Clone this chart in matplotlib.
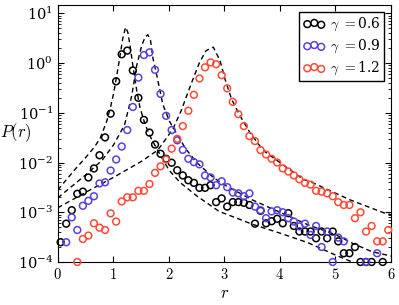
import numpy as np
import matplotlib
matplotlib.use("Agg")
import matplotlib.pyplot as plt
from matplotlib.ticker import LogLocator, NullFormatter, FixedLocator

plt.rcParams['mathtext.fontset'] = 'cm'
plt.rcParams['font.family'] = ['DejaVu Serif']

# ---- data: simulation histograms ----
r_black = [0.05, 0.15, 0.25, 0.35, 0.45, 0.55, 0.65, 0.75, 0.85, 0.95,
           1.05, 1.15, 1.25, 1.35, 1.45, 1.55, 1.65, 1.75, 1.85, 1.95,
           2.05, 2.15, 2.25, 2.35, 2.45, 2.55, 2.65, 2.75, 2.85, 2.95,
           3.05, 3.15, 3.25, 3.35, 3.45, 3.55, 3.65, 3.75, 3.85, 3.95,
           4.05, 4.15, 4.25, 4.35, 4.45, 4.55, 4.65, 4.75, 4.85, 4.95,
           5.05, 5.15, 5.25, 5.35, 5.45, 5.55, 5.65, 5.85]
p_black = [2.5e-4, 5.9e-4, 1.1e-3, 2.35e-3, 2.6e-3, 5.0e-3, 7.6e-3, 1.4e-2, 3.2e-2, 9.6e-2,
           0.43, 1.5, 1.78, 0.71, 0.20, 0.072, 0.040, 0.023, 0.015, 0.0119,
           0.0099, 0.0070, 0.0055, 0.0044, 0.0039, 0.0031, 0.0031, 0.0035, 0.0016, 0.0019,
           0.0013, 0.0016, 0.0016, 0.00155, 0.0014, 0.00059, 0.00107, 0.00060, 0.00066, 0.00074,
           0.00060, 0.00096, 0.00053, 0.00041, 0.00041, 0.00041, 0.00030, 0.00041, 0.00030, 0.00041,
           0.00026, 0.00015, 0.00015, 0.00020, 1e-4, 1e-4, 1e-4, 1e-4]

r_blue = [0.15, 0.25, 0.35, 0.45, 0.55, 0.65, 0.75, 0.85, 0.95,
          1.05, 1.15, 1.25, 1.35, 1.45, 1.55, 1.65, 1.75, 1.85, 1.95,
          2.05, 2.15, 2.25, 2.35, 2.45, 2.55, 2.65, 2.75, 2.85, 2.95,
          3.05, 3.15, 3.25, 3.35, 3.45, 3.55, 3.65, 3.75, 3.85, 3.95,
          4.05, 4.15, 4.25, 4.35, 4.45, 4.55, 4.65, 4.75, 4.85, 4.95,
          5.05, 5.15, 5.55, 5.75]
p_blue = [2.5e-4, 7.9e-4, 4.4e-4, 1.35e-3, 1.7e-3, 2.1e-3, 3.8e-3, 4.0e-3, 6.9e-3,
          0.0115, 0.021, 0.045, 0.131, 0.51, 1.45, 1.64, 0.73, 0.24, 0.087,
          0.045, 0.028, 0.018, 0.0119, 0.0102, 0.0092, 0.0055, 0.0050, 0.0035, 0.0042,
          0.0032, 0.0025, 0.0024, 0.0021, 0.0024, 0.0013, 0.0011, 0.00076, 0.00104, 0.0011,
          0.0010, 0.00076, 0.00065, 0.00052, 0.00059, 0.00035, 0.00053, 0.00020, 0.00041, 1e-4,
          0.00031, 0.00026, 1e-4, 0.00015]

r_red = [0.35, 0.45, 0.55, 0.65, 0.75, 0.85, 0.95,
         1.05, 1.15, 1.25, 1.35, 1.45, 1.55, 1.65, 1.75, 1.85, 1.95,
         2.05, 2.15, 2.25, 2.35, 2.45, 2.55, 2.65, 2.75, 2.85, 2.95,
         3.05, 3.15, 3.25, 3.35, 3.45, 3.55, 3.65, 3.75, 3.85, 3.95,
         4.05, 4.15, 4.25, 4.35, 4.45, 4.55, 4.65, 4.75, 4.85, 4.95,
         5.05, 5.15, 5.25, 5.35, 5.45, 5.55, 5.65, 5.75, 5.85, 5.95]
p_red = [1e-4, 2.9e-4, 3.4e-4, 6.0e-4, 4.9e-4, 4.4e-4, 9.5e-4,
         6.5e-4, 1.65e-3, 2.0e-3, 2.0e-3, 2.7e-3, 2.7e-3, 3.7e-3, 6.2e-3, 8.4e-3, 0.0115,
         0.019, 0.030, 0.054, 0.11, 0.23, 0.49, 0.82, 1.03, 0.95, 0.57,
         0.31, 0.166, 0.094, 0.054, 0.034, 0.027, 0.0178, 0.0145, 0.0119, 0.0100,
         0.0076, 0.0066, 0.0055, 0.0046, 0.0039, 0.0036, 0.0027, 0.0026, 0.0024, 0.0021,
         0.0016, 0.0014, 0.0014, 0.00076, 0.0010, 0.00041, 0.00053, 0.00026, 0.00026, 0.00044]

# ---- data: theory curves (read as log10 P) ----
th_black_r = [0.0, 0.3, 0.5, 0.65, 0.76, 0.88, 0.95, 1.0, 1.06, 1.12, 1.17, 1.22,
              1.26, 1.30, 1.36, 1.42, 1.48, 1.57, 1.66, 1.78, 2.0, 2.2, 2.5, 2.9,
              3.5, 4.0, 4.5, 5.0, 5.3, 5.6]
th_black_log = [-2.55, -2.15, -1.90, -1.70, -1.52, -1.17, -0.88, -0.63, -0.26, 0.15, 0.50, 0.72,
                0.62, 0.35, -0.12, -0.55, -0.90, -1.23, -1.47, -1.72, -2.15, -2.40, -2.67, -2.98,
                -3.24, -3.42, -3.61, -3.86, -4.0, -4.15]

th_blue_r = [0.0, 0.5, 0.8, 1.0, 1.2, 1.33, 1.42, 1.51, 1.57, 1.62, 1.67, 1.71, 1.79,
             1.89, 2.01, 2.13, 2.3, 2.5, 2.8, 3.0, 3.5, 4.0, 4.5, 5.0, 5.3, 5.65, 6.0]
th_blue_log = [-2.71, -2.25, -1.95, -1.65, -1.25, -0.66, -0.05, 0.35, 0.52, 0.57, 0.45, 0.11, -0.29,
               -0.83, -1.17, -1.40, -1.72, -2.0, -2.3, -2.45, -2.75, -3.0, -3.25, -3.45, -3.62, -3.79, -3.88]

th_red_r = [0.0, 0.5, 1.0, 1.5, 1.8, 2.07, 2.22, 2.40, 2.55, 2.67, 2.80, 2.92, 3.01,
            3.13, 3.28, 3.46, 3.64, 3.75, 4.0, 4.42, 4.54, 5.26, 5.89, 6.0]
th_red_log = [-2.91, -2.60, -2.30, -1.98, -1.75, -1.33, -0.96, -0.42, 0.01, 0.25, 0.32, 0.05, -0.32,
              -0.73, -1.06, -1.40, -1.67, -1.80, -2.0, -2.34, -2.38, -2.75, -3.02, -3.05]

labels = [r'$\gamma$ $=$0.6', r'$\gamma$ $=$0.9', r'$\gamma$ $=$1.2']
colors = ['black', '#5b3fe0', '#ff4a36']

fig = plt.figure(figsize=(3.99, 3.05), dpi=100)
ax = fig.add_axes([0.145, 0.141, 0.835, 0.844])

for rr, lg in [(th_black_r, th_black_log), (th_blue_r, th_blue_log), (th_red_r, th_red_log)]:
    ax.plot(rr, 10 ** np.array(lg), color='black', lw=1.0, dashes=(3.5, 2.5), zorder=1)

for rr, pp, c, lab in [(r_black, p_black, colors[0], labels[0]),
                       (r_blue, p_blue, colors[1], labels[1]),
                       (r_red, p_red, colors[2], labels[2])]:
    ax.scatter(rr, pp, s=24, facecolors='none', edgecolors=c, linewidths=1.1,
               label=lab, zorder=3, clip_on=False)

ax.set_yscale('log')
ax.set_xlim(0, 6)
ax.set_ylim(1e-4, 15)
ax.xaxis.set_major_locator(FixedLocator([0, 1, 2, 3, 4, 5, 6]))
ax.set_xticklabels([r'$%d$' % v for v in range(7)])
ax.yaxis.set_major_locator(LogLocator(base=10, numticks=10))
ax.yaxis.set_minor_locator(LogLocator(base=10, subs=np.arange(2, 10), numticks=20))
ax.yaxis.set_minor_formatter(NullFormatter())
ax.tick_params(which='both', direction='in', top=True, right=True, labelsize=10.5)
ax.tick_params(which='major', length=4)
ax.tick_params(which='minor', length=2)

ax.set_xlabel(r'$r$', fontsize=12, labelpad=2)
ax.set_ylabel(r'$P(r)$', fontsize=12, rotation=0)
ax.yaxis.set_label_coords(-0.125, 0.46)

leg = ax.legend(loc='upper right', fontsize=10, frameon=True, fancybox=False,
                edgecolor='black', framealpha=1, borderaxespad=0.5, handletextpad=0.3,
                handlelength=1.6, scatterpoints=3, borderpad=0.3, labelspacing=0.35)
leg.get_frame().set_linewidth(1.0)

fig.savefig('out.png', dpi=100)
